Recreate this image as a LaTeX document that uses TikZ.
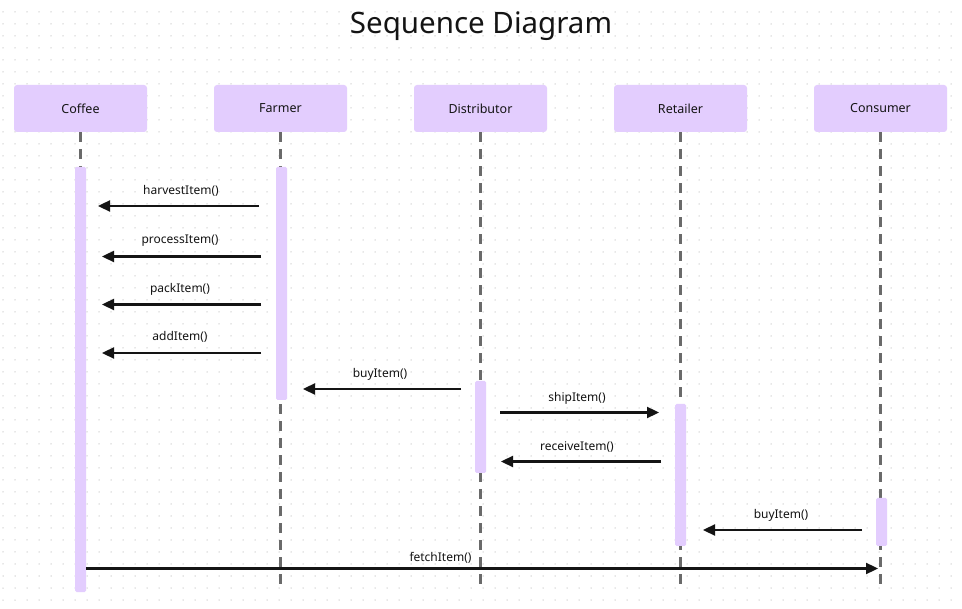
\documentclass[tikz,border=0pt]{standalone}
\usepackage{fontspec}
\setmainfont{Noto Sans}
\usetikzlibrary{arrows.meta}
\definecolor{lilac}{HTML}{E3CDFE}
\definecolor{ink}{HTML}{141414}
\definecolor{lifegray}{HTML}{6A6A6A}
\definecolor{dotgray}{HTML}{D0D0D0}
\tikzset{
	actor/.style={rectangle, rounded corners=3pt, fill=lilac, minimum width=133pt, minimum height=47pt, font=\fontsize{12.5}{15}\selectfont, text=ink},
	bar/.style={rectangle, rounded corners=1.5pt, fill=lilac, minimum width=11pt, inner sep=0pt},
	lifeline/.style={lifegray, line width=2.2pt, dash pattern=on 10pt off 7pt},
	msg/.style={ink, line width=2.3pt, -{Triangle[length=12pt,width=11pt]}},
	msglabel/.style={font=\fontsize{12}{14}\selectfont, text=ink, inner sep=0pt}
}
\begin{document}
\begin{tikzpicture}[x=1pt, y=-1pt]
	\useasboundingbox (0,0) rectangle (962,609);
	\fill[white] (0,0) rectangle (962,609);
	\foreach \i in {0,...,79}
		\foreach \j in {1,...,50}
			\fill[dotgray] (3+12*\i, 12*\j) circle (0.75pt);
	\node[font=\fontsize{29.5}{34}\selectfont, text=ink] (title) at (481, 26.5) {Sequence Diagram};
	% actors
	\node[actor] (coffee) at (80.5, 108.5) {Coffee};
	\node[actor] (farmer) at (280.5, 108.5) {Farmer};
	\node[actor] (distributor) at (480.5, 108.5) {Distributor};
	\node[actor] (retailer) at (680.5, 108.5) {Retailer};
	\node[actor] (consumer) at (880.5, 108.5) {Consumer};
	% lifeline ends
	\coordinate (coffeeend) at (80.5, 586);
	\coordinate (farmerend) at (280.5, 586);
	\coordinate (distributorend) at (480.5, 586);
	\coordinate (retailerend) at (680.5, 586);
	\coordinate (consumerend) at (880.5, 586);
	\draw[lifeline] (coffee.south) to (coffeeend);
	\draw[lifeline] (farmer.south) to (farmerend);
	\draw[lifeline] (distributor.south) to (distributorend);
	\draw[lifeline] (retailer.south) to (retailerend);
	\draw[lifeline] (consumer.south) to (consumerend);
	% activations
	\node[bar, minimum height=425pt] (coffeebar) at (80.5, 379.5) {};
	\node[bar, minimum height=233pt] (farmerbar) at (281.5, 283.5) {};
	\node[bar, minimum height=92pt] (distributorbar) at (480.5, 427) {};
	\node[bar, minimum height=142pt] (retailerbar) at (680.5, 475) {};
	\node[bar, minimum height=48pt] (consumerbar) at (881.5, 522) {};
	% messages
	\coordinate (1) at (259, 206);
	\coordinate (2) at (98, 206);
	\coordinate (3) at (261, 256.5);
	\coordinate (4) at (102, 256.5);
	\coordinate (5) at (261, 304.5);
	\coordinate (6) at (102, 304.5);
	\coordinate (7) at (261, 353);
	\coordinate (8) at (102, 353);
	\coordinate (9) at (461, 389);
	\coordinate (10) at (303, 389);
	\coordinate (11) at (500, 412.5);
	\coordinate (12) at (659, 412.5);
	\coordinate (13) at (661, 461.5);
	\coordinate (14) at (501, 461.5);
	\coordinate (15) at (862, 530);
	\coordinate (16) at (703, 530);
	\coordinate (17) at (86, 568.5);
	\coordinate (18) at (878, 568.5);
	\draw[msg] (1) to (2);
	\draw[msg] (3) to (4);
	\draw[msg] (5) to (6);
	\draw[msg] (7) to (8);
	\draw[msg] (9) to (10);
	\draw[msg] (11) to (12);
	\draw[msg] (13) to (14);
	\draw[msg] (15) to (16);
	\draw[msg] (17) to (18);
	\node[msglabel] (harvest) at (181, 191) {harvestItem()};
	\node[msglabel] (process) at (180, 240.5) {processItem()};
	\node[msglabel] (pack) at (180, 289) {packItem()};
	\node[msglabel] (add) at (180, 337) {addItem()};
	\node[msglabel] (buyfarmer) at (380, 374) {buyItem()};
	\node[msglabel] (ship) at (577, 398) {shipItem()};
	\node[msglabel] (receive) at (577, 447) {receiveItem()};
	\node[msglabel] (buyretailer) at (781, 515) {buyItem()};
	\node[msglabel] (fetch) at (440.5, 558) {fetchItem()};
\end{tikzpicture}
\end{document}
